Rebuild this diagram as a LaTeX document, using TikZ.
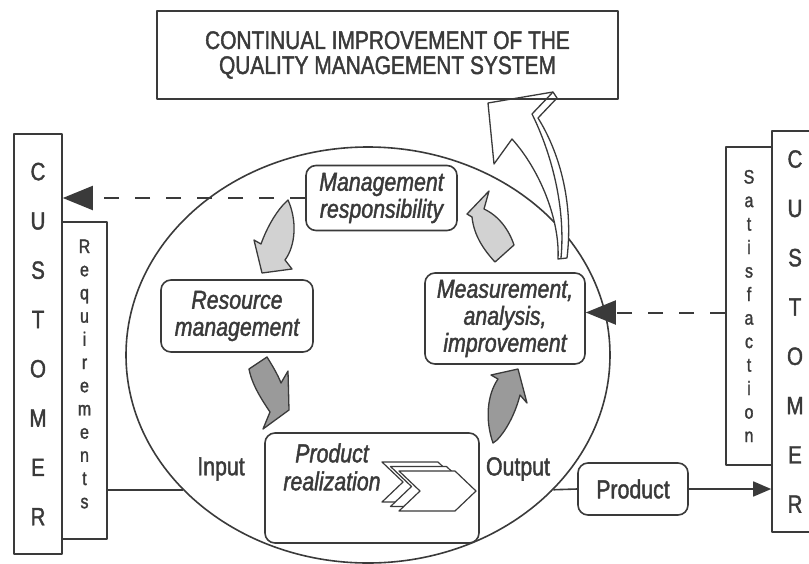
\documentclass[tikz,border=0pt]{standalone}
\usepackage{fontspec}
\setmainfont{Liberation Sans}[FakeStretch=0.82, FakeBold=1.6]
\usepackage{xcolor}
\usepackage{tikz}
\usetikzlibrary{arrows.meta, shapes.geometric}

\definecolor{ink}{HTML}{3A3A3A}
\definecolor{lightfill}{HTML}{D2D2D2}
\definecolor{darkfill}{HTML}{9A9A9A}

\begin{document}
\begin{tikzpicture}[x=1pt, y=-1pt, color=ink, line width=1.6pt, line join=round,
    every node/.style={inner sep=0pt, align=center, font=\fontsize{26}{27}\selectfont},
    roundbox/.style={draw, rectangle, rounded corners=10pt},
    itbox/.style={roundbox, font=\fontsize{26}{27}\selectfont\itshape},
    letters/.style={draw, rectangle, font=\fontsize{25}{49.3}\selectfont},
    smallletters/.style={font=\fontsize{19.5}{23.2}\selectfont},
    bigtip/.style={-{Triangle[length=30pt, width=24pt]}},
    dashline/.style={dash pattern=on 15pt off 16pt, line width=2pt},
    lightarrow/.style={fill=lightfill, line width=1.3pt},
    darkarrow/.style={fill=darkfill, line width=1.3pt},
    chevron/.style={fill=white, line width=1.2pt}]
    \useasboundingbox (0, 0) rectangle (809, 563);

    \node[draw, ellipse, minimum width=484pt, minimum height=416pt] at (368, 355) (loop) {};

    \draw[fill=white, line width=1.3pt] (488, 103) -- (553, 92) -- (557, 98) -- (538, 118)
        .. controls (558, 150) and (574, 200) .. (567, 258) -- (558, 259)
        .. controls (560, 220) and (540, 170) .. (512, 139) -- (494, 164) -- cycle;
    \draw[line width=1.3pt] (553, 92) -- (532, 114) .. controls (550, 150) and (566, 205) .. (561, 258);

    \node[draw, minimum width=461pt, minimum height=88pt, font=\fontsize{25.5}{25}\selectfont] at (387.5, 55) (cip)
        {CONTINUAL IMPROVEMENT OF THE\\QUALITY MANAGEMENT SYSTEM};

    \node[letters, minimum width=48pt, minimum height=420pt] at (38, 344) (custL) {C\\U\\S\\T\\O\\M\\E\\R};
    \node[draw, minimum width=45pt, minimum height=317pt] at (84.5, 380.5) (req) {};
    \node[smallletters] at (84.5, 374) (reqtext) {R\\e\\q\\u\\i\\r\\e\\m\\e\\n\\t\\s};

    \node[letters, minimum width=46pt, minimum height=401pt] at (795, 331.5) (custR) {C\\U\\S\\T\\O\\M\\E\\R};
    \node[draw, font=\fontsize{19.5}{23.5}\selectfont, minimum width=46pt, minimum height=318pt]
        at (749, 306) (sat) {S\\a\\t\\i\\s\\f\\a\\c\\t\\i\\o\\n};

    \node[itbox, minimum width=151pt, minimum height=65pt] at (381.5, 198) (mgmt) {Management\\responsibility};
    \node[itbox, minimum width=152pt, minimum height=72pt] at (237, 316) (res) {Resource\\management};
    \node[itbox, minimum width=160pt, minimum height=91pt] at (505, 318.5) (meas) {Measurement,\\analysis,\\improvement};
    \node[roundbox, minimum width=214pt, minimum height=110pt] at (372, 488) (real) {};
    \node[font=\fontsize{26}{28}\selectfont\itshape] at (332, 467) (realtext) {Product\\realization};
    \node at (221, 469) (input) {Input};
    \node at (518, 469) (output) {Output};
    \node[roundbox, minimum width=110pt, minimum height=52pt] at (633, 489) (prod) {Product};

    \foreach \dx/\dy in {0/0, 8.5/4.5, 17/9}
        \draw[chevron] (382+\dx, 462+\dy) -- ++(56, 0) -- ++(21, 20) -- ++(-21, 20) -- ++(-56, 0) -- ++(21, -20) -- cycle;

    \draw[lightarrow] (283, 205) -- (288, 200) .. controls (297, 220) and (296, 245) .. (285, 260)
        -- (292, 269) -- (262, 273) -- (254, 240) -- (261, 244) .. controls (266, 230) and (274, 215) .. (283, 205) -- cycle;
    \draw[darkarrow] (249, 369) -- (267, 357) .. controls (272, 365) and (278, 375) .. (281, 383)
        -- (288, 371) -- (289, 410) -- (263, 429) -- (270, 412) .. controls (262, 400) and (252, 385) .. (249, 369) -- cycle;
    \draw[darkarrow] (493, 443) .. controls (485, 420) and (487, 395) .. (498, 379) -- (491, 375) -- (518, 369)
        -- (527, 403) -- (520, 395) .. controls (515, 415) and (505, 432) .. (497, 440) -- cycle;
    \draw[lightarrow] (489, 191) -- (467, 214) -- (472, 217) .. controls (474, 236) and (484, 250) .. (495, 262)
        -- (514, 245) .. controls (509, 230) and (499, 216) .. (484, 209) -- cycle;

    \coordinate (inpt) at (loop.216);
    \coordinate (outpt) at (loop.-36);
    \coordinate (sattip) at ([yshift=6pt]meas.east);

    \draw (req.east |- inpt) -- (inpt);
    \draw (outpt) -- (prod.west);
    \draw[-{Triangle[length=18pt, width=15pt]}] (prod.east) -- (custR.west |- prod.east);
    \draw[dashline, bigtip] (mgmt.west) -- (custL.east |- mgmt.west);
    \draw[dashline, bigtip] (sattip -| sat.west) -- (sattip);
\end{tikzpicture}
\end{document}
